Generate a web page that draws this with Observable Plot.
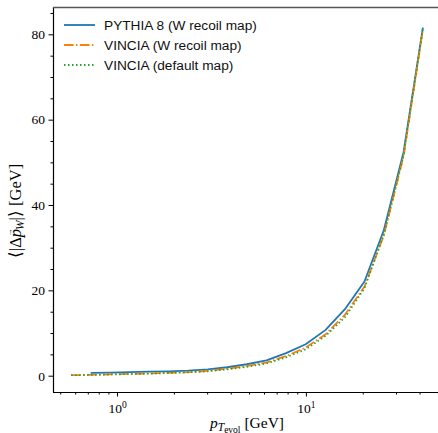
<!DOCTYPE html>
<html><head><meta charset="utf-8">
<script src="https://cdn.jsdelivr.net/npm/d3@7"></script>
<script src="https://cdn.jsdelivr.net/npm/@observablehq/plot@0.6"></script>
<style>
body{margin:0;background:#fff;overflow:hidden}
#chart{width:438px;height:433px;overflow:hidden;position:relative}
#chart svg{overflow:hidden}
</style>
</head><body><div id="chart"></div><script>
// p_T evol bin values [GeV]
const pT = [0.568, 0.721, 0.914, 1.16, 1.47, 1.87, 2.37, 3.01, 3.81, 4.84, 6.15, 7.80, 9.91, 12.6, 16.0, 20.3, 25.7, 32.7, 41.4];
// PYTHIA 8 (W recoil map): starts at second bin
const pythiaW = [null, 0.8, 0.85, 0.95, 1.05, 1.15, 1.3, 1.6, 2.1, 2.8, 3.7, 5.4, 7.5, 10.8, 15.7, 22.2, 34.2, 52.5, 81.7];
// VINCIA (W recoil map)
const vinciaW = [0.25, 0.3, 0.45, 0.55, 0.65, 0.8, 0.95, 1.25, 1.75, 2.4, 3.2, 4.7, 6.7, 9.8, 14.4, 21.0, 33.0, 51.5, 81.3];
// VINCIA (default map)
const vinciaDef = [0.25, 0.3, 0.4, 0.5, 0.6, 0.75, 0.9, 1.15, 1.6, 2.2, 3.0, 4.4, 6.3, 9.4, 13.8, 20.6, 33.2, 51.8, 81.5];

const seriesNames = ["PYTHIA 8 (W recoil map)", "VINCIA (W recoil map)", "VINCIA (default map)"];
const seriesColors = ["#1f77b4", "#ff7f0e", "#2ca02c"];
const seriesDash = [null, "9.6,2.4,1.5,2.4", "1.5,2.5"];

const yMajor = [0, 20, 40, 60, 80];
const yMinor = [5, 10, 15, 25, 30, 35, 45, 50, 55, 65, 70, 75, 85];
const xMajor = [1, 10];
const xMinor = [0.5, 0.6, 0.7, 0.8, 0.9, 2, 3, 4, 5, 6, 7, 8, 9, 20, 30, 40, 50];

const xDomain = [0.458, 51.3];
const yDomain = [-3.82, 86.4];

const allSeries = [pythiaW, vinciaW, vinciaDef];
const rows = (vals) => pT.map((x, i) => ({x, y: vals[i]})).filter(d => d.y != null);

const lineMarks = allSeries.map((vals, k) =>
  Plot.line(rows(vals), {x: "x", y: "y", stroke: seriesColors[k], strokeWidth: 1.8,
    strokeDasharray: seriesDash[k] ?? undefined, strokeLinejoin: "round", strokeLinecap: "butt"}));

const plot = Plot.plot({
  width: 438, height: 433,
  marginLeft: 53, marginRight: -2, marginTop: 7, marginBottom: 41,
  style: {fontFamily: "'Liberation Serif', serif", fontSize: "12px", background: "white", color: "black"},
  x: {type: "log", domain: xDomain},
  y: {domain: yDomain},
  marks: [
    Plot.axisY({ticks: yMajor, tickSize: 4.5, tickPadding: 4, tickFormat: d => String(d), label: null, fontSize: 13.5}),
    Plot.axisY({ticks: yMinor, tickSize: 2.5, tickFormat: () => "", label: null}),
    Plot.axisX({ticks: xMajor, tickSize: 4.5, tickPadding: 6, tickFormat: d => String(Math.round(Math.log10(d))), label: null, fontSize: 13.5}),
    Plot.axisX({ticks: xMinor, tickSize: 2.5, tickFormat: () => "", label: null}),
    ...lineMarks,
    Plot.ruleX([xDomain[0]], {stroke: "black", strokeWidth: 1.2}),
    Plot.ruleY([yDomain[0]], {stroke: "black", strokeWidth: 1.2}),
    Plot.ruleY([yDomain[1]], {stroke: "#555", strokeWidth: 1.4})
  ]
});

document.getElementById("chart").appendChild(plot);
const svg = d3.select(plot);

// superscript tick labels 10^k
svg.selectAll('g[aria-label="x-axis tick label"] text').each(function() {
  const t = d3.select(this);
  const exp = t.text();
  if (exp === "") return;
  t.text("10");
  t.append("tspan").attr("dy", "-0.45em").style("font-size", "9.5px").text(exp);
});

const serif = "'Liberation Serif', serif";
// axis labels
const xl = svg.append("text").attr("x", 247).attr("y", 428)
  .attr("text-anchor", "middle").style("font-family", serif).style("font-size", "15.5px").attr("fill", "black");
xl.append("tspan").style("font-style", "italic").text("p");
xl.append("tspan").style("font-style", "italic").style("font-size", "11.5px").attr("dy", "2.5").text("T");
xl.append("tspan").style("font-size", "9.5px").attr("dy", "2").text("evol");
xl.append("tspan").attr("dy", "-4.5").text(" [GeV]");

const yl = svg.append("text").attr("transform", "translate(21,211) rotate(-90)")
  .attr("text-anchor", "middle").style("font-family", serif).style("font-size", "16.5px").attr("fill", "black");
yl.append("tspan").text("⟨|Δ");
yl.append("tspan").style("font-style", "italic").text("p");
yl.append("tspan").style("font-size", "8px").attr("dx", "-7.5").attr("dy", "-9").text("→");
yl.append("tspan").style("font-style", "italic").style("font-size", "11.5px").attr("dx", "-1.5").attr("dy", "12").text("W");
yl.append("tspan").attr("dy", "-3").text("|⟩ [GeV]");

// legend
const leg = svg.append("g");
seriesNames.forEach((name, k) => {
  const y = 25 + 20 * k;
  leg.append("line").attr("x1", 64).attr("x2", 95).attr("y1", y).attr("y2", y)
    .attr("stroke", seriesColors[k]).attr("stroke-width", 1.8)
    .attr("stroke-dasharray", seriesDash[k]);
  leg.append("text").attr("x", 104).attr("y", y + 5).attr("fill", "#111").attr("text-anchor", "start")
    .style("font-family", "'Liberation Sans', Arial, sans-serif").style("font-size", "13.7px").text(name);
});
</script></body></html>
